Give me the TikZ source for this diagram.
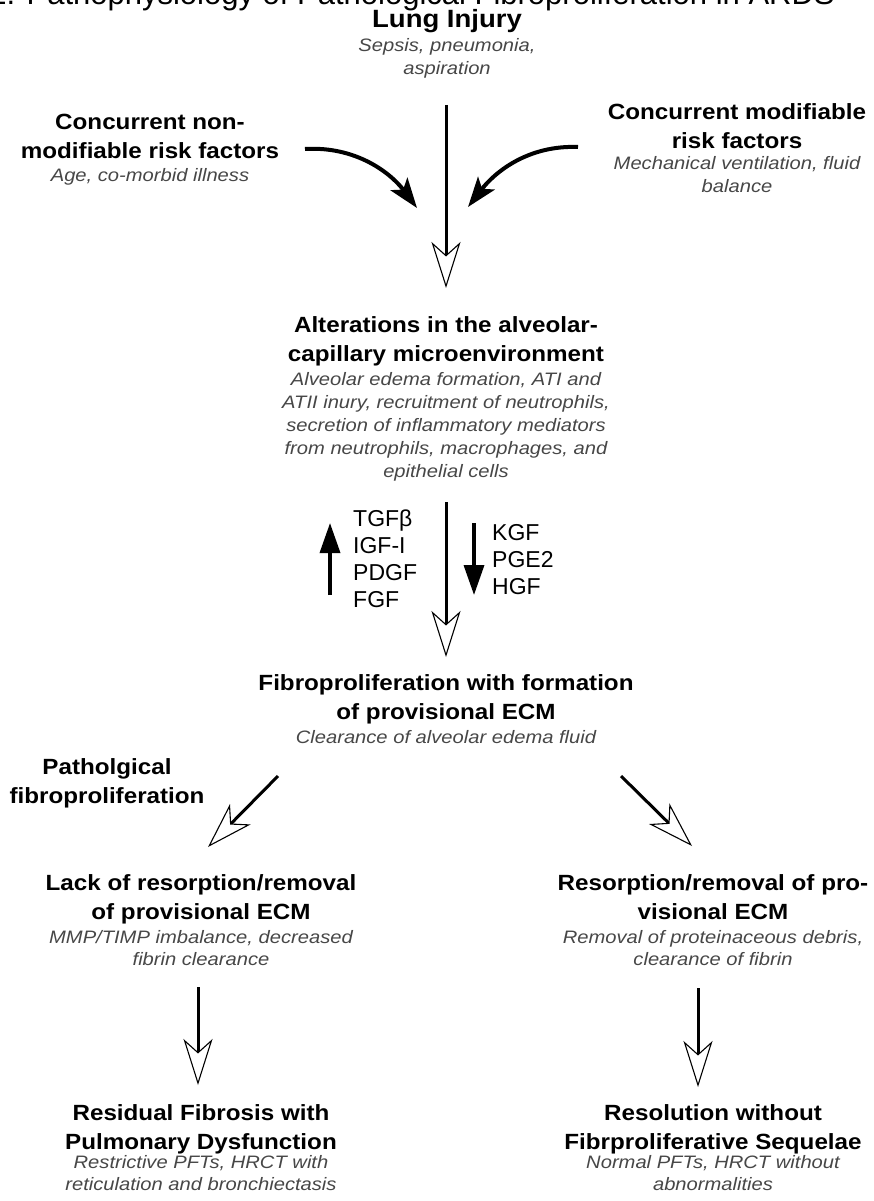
\documentclass[tikz,border=0pt]{standalone}
\usepackage{fontspec}
\setmainfont{Liberation Sans}
\newfontfamily\hdfont[FakeStretch=1.1]{Liberation Sans}
\newfontfamily\itfont[FakeStretch=1.12]{Liberation Sans}
\usetikzlibrary{arrows.meta}
\begin{document}
\begin{tikzpicture}[x=1pt,y=-1pt,
  head/.style={font=\hdfont\bfseries\fontsize{22}{29}\selectfont, align=center, inner sep=0pt, text=black},
  sub/.style={font=\itfont\itshape\fontsize{18}{22.5}\selectfont, align=center, inner sep=0pt, text=black!72},
  fac/.style={font=\fontsize{23}{27}\selectfont, align=left, inner sep=0pt, text=black},
  openarrow/.style={line width=3pt, -{Stealth[fill=white, length=46pt, width=29pt, inset=13pt, line width=1.1pt]}},
  curvearrow/.style={line width=4pt, -{Stealth[length=30pt, width=21pt, inset=7pt]}},
  solidarrow/.style={line width=3.5pt, -{Triangle[length=30pt, width=20pt]}},
]
\useasboundingbox (0,0) rectangle (873,1201);
\fill[white] (0,0) rectangle (873,1201);

\node[font=\fontsize{31}{34}\selectfont, inner sep=0pt, anchor=base east] (title) at (835,5) {1. Pathophysiology of Pathological Fibroproliferation in ARDS};

\node[head, font=\hdfont\bfseries\fontsize{25}{29}\selectfont, anchor=base] (lung) at (447,28) {Lung Injury};
\node[sub, anchor=base] (lungs) at (447,74.5) {Sepsis, pneumonia,\\aspiration};

\node[head, anchor=base] (nonmod) at (150,159) {Concurrent non-\\modifiable risk factors};
\node[sub, anchor=base] (nonmods) at (150,182) {Age, co-morbid illness};

\node[head, anchor=base] (mod) at (737,149) {Concurrent modifiable\\risk factors};
\node[sub, anchor=base] (mods) at (737,192.5) {Mechanical ventilation, fluid\\balance};

\node[head, anchor=base] (alt) at (446,361) {Alterations in the alveolar-\\capillary microenvironment};
\node[sub, font=\itfont\itshape\fontsize{18}{23}\selectfont, anchor=base] (alts) at (446,477) {Alveolar edema formation, ATI and\\ATII inury, recruitment of neutrophils,\\secretion of inflammatory mediators\\from neutrophils, macrophages, and\\epithelial cells};

\node[fac, anchor=base west] (upf) at (353,607) {TGFβ\\IGF-I\\PDGF\\FGF};
\node[fac, anchor=base west] (downf) at (492,594) {KGF\\PGE2\\HGF};

\node[head, anchor=base] (fib) at (446,719) {Fibroproliferation with formation\\of provisional ECM};
\node[sub, anchor=base] (fibs) at (446,743) {Clearance of alveolar edema fluid};

\node[head, anchor=base] (path) at (107,803) {Patholgical\\fibroproliferation};

\node[head, anchor=base] (lack) at (201,919) {Lack of resorption/removal\\of provisional ECM};
\node[sub, anchor=base] (lacks) at (201,965.5) {MMP/TIMP imbalance, decreased\\fibrin clearance};

\node[head, anchor=base] (res) at (713,919) {Resorption/removal of pro-\\visional ECM};
\node[sub, anchor=base] (ress) at (713,965.5) {Removal of proteinaceous debris,\\clearance of fibrin};

\node[head, anchor=base] (resid) at (201,1149) {Residual Fibrosis with\\Pulmonary Dysfunction};
\node[sub, anchor=base] (resids) at (201,1190.5) {Restrictive PFTs, HRCT with\\reticulation and bronchiectasis};

\node[head, anchor=base] (resol) at (713,1149) {Resolution without\\Fibrproliferative Sequelae};
\node[sub, anchor=base] (resols) at (713,1190.5) {Normal PFTs, HRCT without\\abnormalities};

% arrow end points
\coordinate (a1s) at (446,105); \coordinate (a1e) at (446,288);
\coordinate (l1s) at (305,149); \coordinate (l1e) at (417,208);
\coordinate (r1s) at (578,147); \coordinate (r1e) at (468,207);
\coordinate (ups) at (330,595); \coordinate (upe) at (330,523);
\coordinate (dns) at (474,523); \coordinate (dne) at (474,595);
\coordinate (a2s) at (446,502); \coordinate (a2e) at (446,657);
\coordinate (dls) at (278,776); \coordinate (dle) at (208,847);
\coordinate (drs) at (621,776); \coordinate (dre) at (692,846);
\coordinate (bls) at (198,987); \coordinate (ble) at (198,1085);
\coordinate (brs) at (698,988); \coordinate (bre) at (698,1087);

\draw[openarrow] (a1s) -- (a1e);
\draw[curvearrow] (l1s) .. controls (355,146) and (390,172) .. (l1e);
\draw[curvearrow] (r1s) .. controls (528,145) and (495,172) .. (r1e);
\draw[solidarrow] (ups) -- (upe);
\draw[solidarrow] (dns) -- (dne);
\draw[openarrow] (a2s) -- (a2e);
\draw[openarrow] (dls) -- (dle);
\draw[openarrow] (drs) -- (dre);
\draw[openarrow] (bls) -- (ble);
\draw[openarrow] (brs) -- (bre);
\end{tikzpicture}
\end{document}
